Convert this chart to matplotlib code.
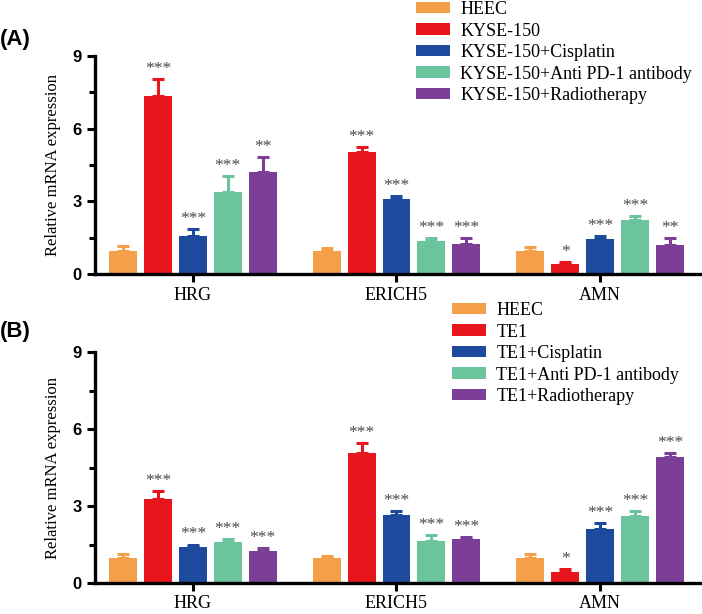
import matplotlib.pyplot as plt
import numpy as np

genes = ["HRG", "ERICH5", "AMN"]
colors = ["#F4A04B", "#E7161C", "#1D4A9C", "#6CC49C", "#7B3F97"]

labels_a = ["HEEC", "KYSE-150", "KYSE-150+Cisplatin",
            "KYSE-150+Anti PD-1 antibody", "KYSE-150+Radiotherapy"]
labels_b = ["HEEC", "TE1", "TE1+Cisplatin",
            "TE1+Anti PD-1 antibody", "TE1+Radiotherapy"]

# rows = groups (HEEC ... Radiotherapy), cols = genes
mean_a = [[0.96, 0.96, 0.96],
          [7.36, 5.04, 0.41],
          [1.55, 3.10, 1.43],
          [3.39, 1.36, 2.23],
          [4.21, 1.24, 1.18]]
err_a = [[0.20, 0.10, 0.17],
         [0.70, 0.21, 0.09],
         [0.31, 0.12, 0.14],
         [0.66, 0.13, 0.15],
         [0.62, 0.25, 0.29]]
stars_a = [["", "", ""],
           ["***", "***", "*"],
           ["***", "***", "***"],
           ["***", "***", "***"],
           ["**", "***", "**"]]

mean_b = [[0.96, 0.96, 0.96],
          [3.27, 5.05, 0.44],
          [1.40, 2.67, 2.09],
          [1.61, 1.65, 2.61],
          [1.25, 1.71, 4.90]]
err_b = [[0.17, 0.09, 0.16],
         [0.30, 0.41, 0.12],
         [0.10, 0.12, 0.23],
         [0.09, 0.22, 0.19],
         [0.12, 0.07, 0.15]]
stars_b = [["", "", ""],
           ["***", "***", "*"],
           ["***", "***", "***"],
           ["***", "***", "***"],
           ["***", "***", "***"]]

SERIF = ["Liberation Serif", "DejaVu Serif"]
SANS = ["Liberation Sans", "DejaVu Sans"]
GROUP_STEP = 5.83
BAR_W = 0.8


def draw_panel(ax, means, errs, stars, labels):
    centers = np.arange(len(genes)) * GROUP_STEP
    for i, (m, e, s, lab) in enumerate(zip(means, errs, stars, labels)):
        x = centers + (i - 2)
        ax.bar(x, m, width=BAR_W, color=colors[i], label=lab, zorder=2)
        ax.errorbar(x, m, yerr=[np.zeros(len(e)), e], fmt="none",
                    ecolor=colors[i], elinewidth=2.2, capsize=4.5,
                    capthick=2.2, zorder=2)
        for xi, mi, ei, si in zip(x, m, e, s):
            if si:
                ax.text(xi, mi + ei + 0.08, si, ha="center", va="bottom",
                        fontsize=12.5, color="#4a4a4a", family=SERIF)
    ax.set_ylim(0, 9)
    ax.set_xlim(centers[0] - 2.8, centers[-1] + 2.86)
    ax.set_yticks([0, 3, 6, 9])
    ax.set_yticks([1.5, 4.5, 7.5], minor=True)
    ax.set_xticks(centers)
    ax.set_xticklabels(genes, family=SERIF, fontsize=13)
    for t in ax.get_yticklabels():
        t.set_family(SANS)
        t.set_fontweight("bold")
        t.set_fontsize(12)
    ax.tick_params(axis="y", which="major", length=6, width=2.2, direction="out")
    ax.tick_params(axis="y", which="minor", length=4, width=2.2, direction="out")
    ax.tick_params(axis="x", length=6, width=2.2, pad=3)
    for side in ("top", "right"):
        ax.spines[side].set_visible(False)
    for side in ("left", "bottom"):
        ax.spines[side].set_linewidth(2.4)
    ax.set_ylabel("Relative mRNA expression", family=SERIF, fontsize=12,
                  labelpad=8)


fig = plt.figure(figsize=(7.02, 6.14), dpi=100)
ax_a = fig.add_axes([0.1353, 0.5537, 0.862, 0.355])
ax_b = fig.add_axes([0.1353, 0.0505, 0.862, 0.376])

draw_panel(ax_a, mean_a, err_a, stars_a, labels_a)
draw_panel(ax_b, mean_b, err_b, stars_b, labels_b)

leg_kw = dict(frameon=False, prop={"family": SERIF, "size": 13},
              handlelength=1.9, handleheight=0.6, handletextpad=0.55,
              labelspacing=0.25, borderpad=0, borderaxespad=0)
fig.legend(*ax_a.get_legend_handles_labels(), loc="upper left",
           bbox_to_anchor=(416 / 702, 1 - 1 / 614), **leg_kw)
fig.legend(*ax_b.get_legend_handles_labels(), loc="upper left",
           bbox_to_anchor=(452 / 702, 1 - 302 / 614), **leg_kw)

fig.text(0.0, 1 - 40 / 614, "(A)", fontsize=16, fontweight="bold",
         family=SANS, va="center")
fig.text(0.0, 1 - 332 / 614, "(B)", fontsize=16, fontweight="bold",
         family=SANS, va="center")

fig.savefig("out.png", dpi=100)
